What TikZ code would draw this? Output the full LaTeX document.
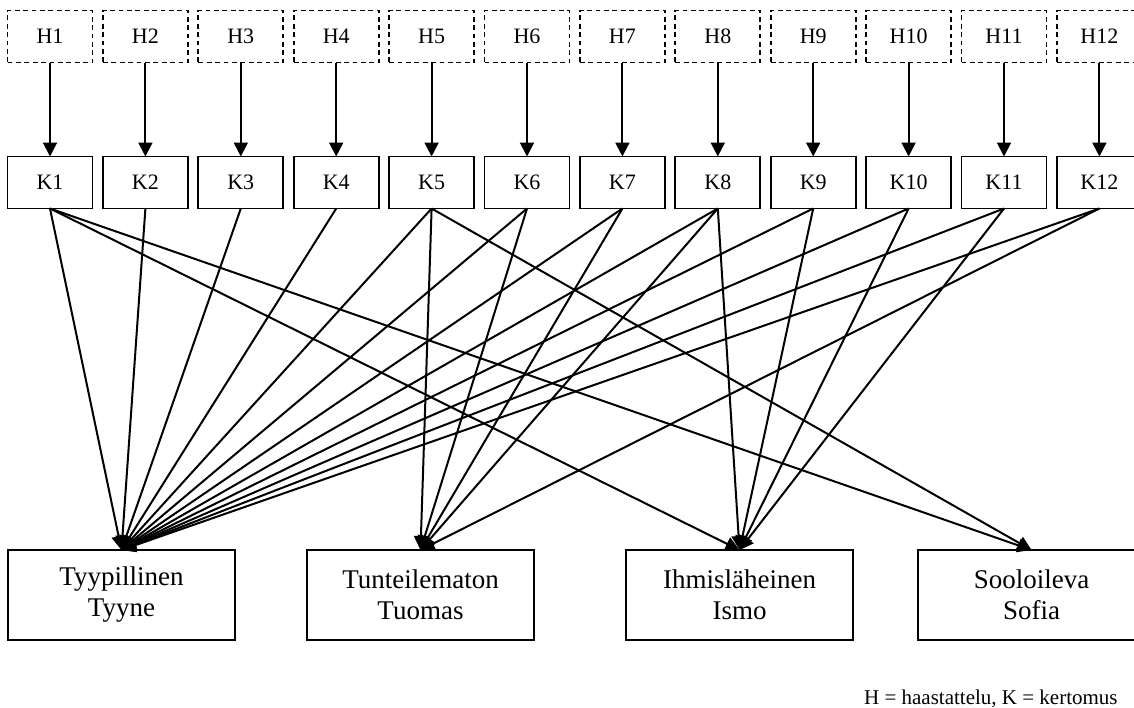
\documentclass[tikz,border=0pt]{standalone}
\usepackage{fontspec}
\setmainfont{Liberation Serif}
\usetikzlibrary{arrows.meta,positioning}

\begin{document}
\begin{tikzpicture}[
  x=0.5pt, y=-0.5pt,
  >={Triangle[length=7pt,width=7pt]},
  source/.style={
    rectangle,
    draw,
    dash pattern=on 2.4pt off 1.8pt,
    line width=0.85pt,
    minimum width=42.5pt,
    minimum height=26pt,
    inner sep=0pt,
    outer sep=0pt,
    font=\fontsize{11}{13}\selectfont
  },
  story/.style={
    rectangle,
    draw,
    line width=0.85pt,
    minimum width=42.5pt,
    minimum height=26pt,
    inner sep=0pt,
    outer sep=0pt,
    font=\fontsize{11}{13}\selectfont
  },
  persona/.style={
    rectangle,
    draw,
    line width=0.85pt,
    minimum width=113.5pt,
    minimum height=45pt,
    align=center,
    outer sep=0pt,
    font=\fontsize{13.5}{15.5}\selectfont
  },
  arrow/.style={->, line width=1pt}
]

\useasboundingbox (0,0) rectangle (1134,707);

% haastattelut
\node[source] (h1) at (50,36.5) {H1};
\node[source, right=5.2pt of h1] (h2) {H2};
\node[source, right=5.2pt of h2] (h3) {H3};
\node[source, right=5.2pt of h3] (h4) {H4};
\node[source, right=5.2pt of h4] (h5) {H5};
\node[source, right=5.2pt of h5] (h6) {H6};
\node[source, right=5.2pt of h6] (h7) {H7};
\node[source, right=5.2pt of h7] (h8) {H8};
\node[source, right=5.2pt of h8] (h9) {H9};
\node[source, right=5.2pt of h9] (h10) {H10};
\node[source, right=5.2pt of h10] (h11) {H11};
\node[source, right=5.2pt of h11] (h12) {H12};

% kertomukset
\node[story, below=47pt of h1] (k1) {K1};
\node[story, below=47pt of h2] (k2) {K2};
\node[story, below=47pt of h3] (k3) {K3};
\node[story, below=47pt of h4] (k4) {K4};
\node[story, below=47pt of h5] (k5) {K5};
\node[story, below=47pt of h6] (k6) {K6};
\node[story, below=47pt of h7] (k7) {K7};
\node[story, below=47pt of h8] (k8) {K8};
\node[story, below=47pt of h9] (k9) {K9};
\node[story, below=47pt of h10] (k10) {K10};
\node[story, below=47pt of h11] (k11) {K11};
\node[story, below=47pt of h12] (k12) {K12};

\draw[arrow] (h1.south) -- (k1.north);
\draw[arrow] (h2.south) -- (k2.north);
\draw[arrow] (h3.south) -- (k3.north);
\draw[arrow] (h4.south) -- (k4.north);
\draw[arrow] (h5.south) -- (k5.north);
\draw[arrow] (h6.south) -- (k6.north);
\draw[arrow] (h7.south) -- (k7.north);
\draw[arrow] (h8.south) -- (k8.north);
\draw[arrow] (h9.south) -- (k9.north);
\draw[arrow] (h10.south) -- (k10.north);
\draw[arrow] (h11.south) -- (k11.north);
\draw[arrow] (h12.south) -- (k12.north);

% tyypit
\node[persona] (tyyne) at (121.5,595) {Tyypillinen\\Tyyne};
\node[persona, right=36pt of tyyne] (tuomas) {Tunteilematon\\Tuomas};
\node[persona, right=46pt of tuomas] (ismo) {Ihmisläheinen\\Ismo};
\node[persona, right=32.5pt of ismo] (sofia) {Sooloileva\\Sofia};

\draw[arrow] (k1.south) -- (tyyne.north);
\draw[arrow] (k1.south) -- (ismo.north);
\draw[arrow] (k1.south) -- (sofia.north);
\draw[arrow] (k2.south) -- (tyyne.north);
\draw[arrow] (k3.south) -- (tyyne.north);
\draw[arrow] (k4.south) -- (tyyne.north);
\draw[arrow] (k5.south) -- (tyyne.north);
\draw[arrow] (k5.south) -- (tuomas.north);
\draw[arrow] (k5.south) -- (sofia.north);
\draw[arrow] (k6.south) -- (tyyne.north);
\draw[arrow] (k6.south) -- (tuomas.north);
\draw[arrow] (k7.south) -- (tyyne.north);
\draw[arrow] (k7.south) -- (tuomas.north);
\draw[arrow] (k8.south) -- (tyyne.north);
\draw[arrow] (k8.south) -- (tuomas.north);
\draw[arrow] (k8.south) -- (ismo.north);
\draw[arrow] (k9.south) -- (tyyne.north);
\draw[arrow] (k9.south) -- (ismo.north);
\draw[arrow] (k10.south) -- (tyyne.north);
\draw[arrow] (k10.south) -- (ismo.north);
\draw[arrow] (k11.south) -- (tyyne.north);
\draw[arrow] (k11.south) -- (ismo.north);
\draw[arrow] (k12.south) -- (tyyne.north);
\draw[arrow] (k12.south) -- (tuomas.north);

\node[anchor=base east, inner sep=0pt, font=\fontsize{10.5}{12}\selectfont] (legend) at (1118,704) {H = haastattelu, K = kertomus};

\end{tikzpicture}
\end{document}
